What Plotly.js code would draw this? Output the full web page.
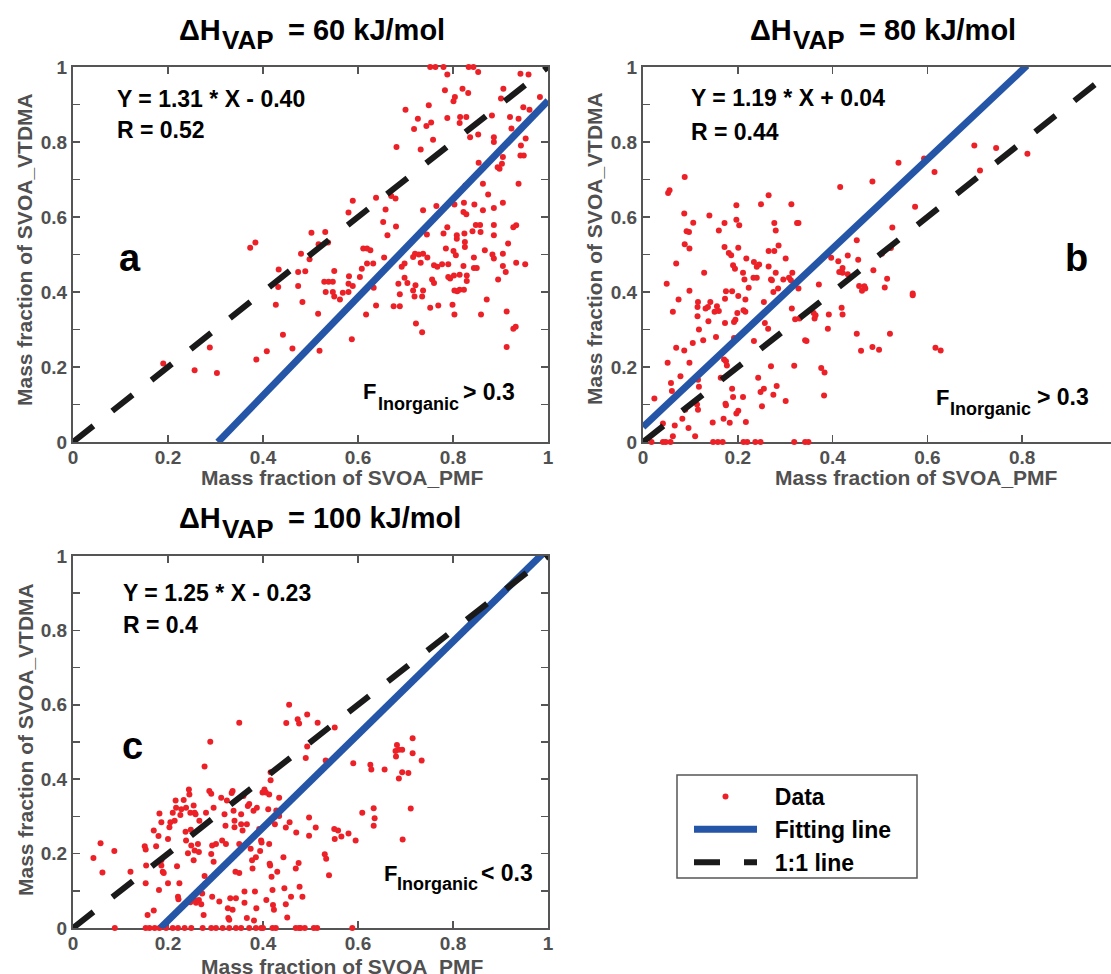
<!DOCTYPE html>
<html>
<head>
<meta charset="utf-8">
<script src="https://cdn.plot.ly/plotly-3.0.1.min.js"></script>
<style>html,body{margin:0;padding:0;background:#fff;}#chart{width:1111px;height:974px;}</style>
</head>
<body>
<div id="chart"></div>
<script>
// ---------- Data ----------
const panelTitles = ['= 60 kJ/mol', '= 80 kJ/mol', '= 100 kJ/mol'];
const panelLetters = ['a', 'b', 'c'];
const equations = ['Y = 1.31 * X - 0.40', 'Y = 1.19 * X + 0.04', 'Y = 1.25 * X - 0.23'];
const rValues = ['R = 0.52', 'R = 0.44', 'R = 0.4'];
const inorganicLabels = ['> 0.3', '> 0.3', '< 0.3'];
const legendNames = ['Data', 'Fitting line', '1:1 line'];
const fitSlope = [1.31, 1.19, 1.25];
const fitIntercept = [-0.40, 0.04, -0.23];
const fitXStart = [0.305, 0.0, 0.184];
const fitXEnd = [1.0, 0.81, 1.0];
const oneToOne = [0, 1];
const tickVals = [0, 0.2, 0.4, 0.6, 0.8, 1];
const tickText = ['0', '0.2', '0.4', '0.6', '0.8', '1'];

const aX = [0.752,0.763,0.780,0.788,0.833,0.843,0.853,0.942,0.959,0.783,0.820,0.832,0.804,0.801,0.906,0.983,0.901,0.749,0.700,0.788,
0.815,0.828,0.814,0.726,0.754,0.744,0.718,0.920,0.938,0.882,0.948,0.961,0.923,0.758,0.853,0.836,0.681,0.732,0.886,0.886,
0.953,0.943,0.942,0.949,0.905,0.903,0.894,0.854,0.898,0.938,0.863,0.874,0.826,0.670,0.679,0.638,0.589,0.580,0.658,0.823,
0.845,0.803,0.765,0.737,0.822,0.828,0.863,0.886,0.905,0.653,0.680,0.662,0.788,0.848,0.857,0.886,0.927,0.933,0.745,0.780,
0.808,0.824,0.841,0.858,0.886,0.808,0.825,0.825,0.916,0.785,0.801,0.806,0.867,0.905,0.883,0.886,0.720,0.728,0.737,0.716,
0.746,0.611,0.619,0.626,0.655,0.698,0.692,0.732,0.760,0.767,0.777,0.790,0.822,0.844,0.850,0.844,0.905,0.933,0.952,0.911,
0.619,0.632,0.608,0.756,0.760,0.790,0.794,0.802,0.814,0.829,0.829,0.895,0.698,0.685,0.704,0.721,0.716,0.737,0.688,0.719,
0.735,0.803,0.809,0.814,0.823,0.633,0.638,0.617,0.675,0.688,0.752,0.769,0.799,0.803,0.871,0.859,0.913,0.722,0.735,0.927,
0.932,0.913,0.529,0.538,0.547,0.532,0.547,0.550,0.562,0.568,0.580,0.580,0.589,0.581,0.604,0.550,0.516,0.587,0.519,0.531,
0.502,0.517,0.537,0.480,0.498,0.474,0.489,0.474,0.483,0.433,0.432,0.427,0.442,0.462,0.408,0.386,0.373,0.384,0.288,0.303,
0.256,0.190];
const aY = [1.0,1.0,1.0,0.98,1.0,1.0,0.987,0.982,0.98,0.938,0.942,0.931,0.92,0.909,0.942,0.92,0.916,0.898,0.886,0.864,
0.867,0.867,0.851,0.862,0.852,0.843,0.835,0.867,0.862,0.871,0.893,0.886,0.836,0.806,0.82,0.813,0.787,0.78,0.813,0.80,
0.809,0.791,0.764,0.764,0.76,0.742,0.733,0.745,0.729,0.689,0.689,0.66,0.684,0.656,0.649,0.651,0.643,0.612,0.62,0.638,
0.633,0.633,0.629,0.618,0.613,0.607,0.618,0.624,0.638,0.587,0.575,0.551,0.573,0.579,0.579,0.579,0.573,0.578,0.553,0.556,
0.551,0.556,0.562,0.56,0.551,0.542,0.533,0.52,0.529,0.516,0.509,0.498,0.511,0.502,0.50,0.489,0.502,0.50,0.502,0.493,
0.492,0.516,0.516,0.511,0.492,0.476,0.467,0.478,0.471,0.467,0.474,0.474,0.469,0.464,0.464,0.492,0.469,0.478,0.474,0.453,
0.476,0.476,0.462,0.433,0.424,0.44,0.436,0.444,0.446,0.444,0.429,0.433,0.438,0.422,0.424,0.418,0.404,0.404,0.394,0.388,
0.388,0.404,0.402,0.406,0.406,0.411,0.364,0.34,0.362,0.362,0.358,0.364,0.366,0.34,0.38,0.34,0.348,0.316,0.293,0.302,
0.307,0.253,0.427,0.427,0.427,0.40,0.40,0.388,0.38,0.398,0.40,0.422,0.416,0.442,0.44,0.456,0.342,0.274,0.243,0.56,
0.558,0.527,0.532,0.502,0.487,0.453,0.455,0.416,0.373,0.46,0.413,0.366,0.286,0.249,0.242,0.22,0.518,0.532,0.252,0.184,
0.191,0.209];

const bX = [0.699,0.745,0.811,0.711,0.615,0.593,0.539,0.484,0.416,0.574,0.526,0.451,0.523,0.504,0.432,0.397,0.412,0.454,0.421,0.414,
0.421,0.432,0.486,0.515,0.456,0.467,0.469,0.462,0.510,0.569,0.569,0.371,0.419,0.421,0.392,0.390,0.360,0.362,0.364,0.451,
0.521,0.460,0.484,0.498,0.617,0.628,0.376,0.383,0.382,0.342,0.345,0.319,0.301,0.330,0.321,0.314,0.328,0.312,0.315,0.296,
0.308,0.301,0.272,0.275,0.285,0.280,0.270,0.286,0.277,0.265,0.265,0.280,0.277,0.325,0.328,0.313,0.265,0.249,0.197,0.197,
0.203,0.172,0.160,0.172,0.201,0.181,0.186,0.218,0.234,0.245,0.240,0.190,0.194,0.211,0.214,0.233,0.240,0.223,0.175,0.188,
0.201,0.173,0.216,0.255,0.212,0.216,0.199,0.195,0.192,0.173,0.257,0.264,0.234,0.192,0.171,0.175,0.177,0.154,0.142,0.132,
0.151,0.160,0.156,0.137,0.116,0.115,0.115,0.138,0.118,0.127,0.105,0.129,0.140,0.106,0.092,0.097,0.087,0.088,0.088,0.098,
0.098,0.075,0.070,0.050,0.053,0.056,0.063,0.070,0.087,0.052,0.098,0.059,0.061,0.079,0.116,0.118,0.114,0.116,0.089,0.083,
0.096,0.067,0.024,0.042,0.063,0.110,0.147,0.164,0.170,0.183,0.174,0.175,0.188,0.190,0.197,0.201,0.211,0.217,0.243,0.248,
0.255,0.251,0.270,0.275,0.282,0.018,0.042,0.048,0.058,0.148,0.158,0.168,0.212,0.220,0.237,0.248,0.319,0.342,0.349];
const bY = [0.791,0.784,0.769,0.724,0.72,0.756,0.745,0.695,0.68,0.627,0.572,0.538,0.517,0.502,0.497,0.491,0.482,0.486,0.464,0.453,
0.451,0.447,0.458,0.435,0.416,0.415,0.409,0.403,0.412,0.396,0.391,0.42,0.358,0.34,0.34,0.302,0.344,0.329,0.338,0.289,
0.289,0.243,0.253,0.246,0.251,0.244,0.197,0.185,0.124,0.271,0.269,0.203,0.109,0.329,0.327,0.356,0.409,0.431,0.451,0.433,
0.438,0.489,0.431,0.40,0.409,0.451,0.433,0.524,0.509,0.509,0.468,0.564,0.584,0.584,0.584,0.634,0.658,0.634,0.631,0.593,
0.578,0.584,0.564,0.52,0.518,0.504,0.498,0.489,0.48,0.473,0.467,0.471,0.462,0.451,0.433,0.438,0.438,0.411,0.402,0.402,
0.389,0.382,0.38,0.373,0.351,0.347,0.344,0.326,0.32,0.317,0.317,0.302,0.269,0.277,0.22,0.215,0.204,0.28,0.373,0.356,
0.347,0.349,0.362,0.36,0.373,0.36,0.335,0.322,0.30,0.271,0.264,0.451,0.604,0.585,0.562,0.56,0.609,0.707,0.527,0.516,
0.403,0.38,0.476,0.422,0.664,0.671,0.347,0.251,0.244,0.211,0.211,0.157,0.136,0.175,0.166,0.147,0.10,0.086,0.086,0.062,
0.037,0.044,0.116,0.049,0.015,0.015,0.052,0.171,0.062,0.051,0.102,0.098,0.142,0.12,0.076,0.083,0.12,0.053,0.171,0.133,
0.142,0.095,0.202,0.126,0.149,0,0,0,0,0,0,0,0,0,0,0,0,0,0];

const cX = [0.043,0.058,0.062,0.087,0.088,0.121,0.151,0.153,0.154,0.153,0.157,0.170,0.170,0.175,0.180,0.182,0.181,0.186,0.186,0.186,
0.189,0.191,0.200,0.200,0.203,0.205,0.210,0.216,0.214,0.217,0.219,0.221,0.222,0.224,0.226,0.228,0.233,0.237,0.238,0.238,
0.242,0.242,0.244,0.245,0.247,0.248,0.247,0.249,0.254,0.256,0.258,0.256,0.254,0.256,0.259,0.265,0.263,0.265,0.266,0.270,
0.272,0.275,0.277,0.277,0.278,0.280,0.287,0.289,0.291,0.291,0.293,0.293,0.296,0.296,0.301,0.308,0.312,0.314,0.319,0.321,
0.322,0.324,0.326,0.327,0.329,0.331,0.336,0.334,0.336,0.338,0.340,0.340,0.342,0.343,0.350,0.350,0.350,0.354,0.354,0.357,
0.359,0.361,0.361,0.366,0.366,0.368,0.371,0.374,0.377,0.378,0.380,0.381,0.383,0.385,0.386,0.387,0.392,0.394,0.396,0.397,
0.399,0.403,0.406,0.407,0.411,0.413,0.414,0.416,0.416,0.413,0.415,0.418,0.420,0.421,0.423,0.423,0.425,0.428,0.430,0.434,
0.434,0.443,0.445,0.448,0.448,0.449,0.451,0.455,0.456,0.459,0.469,0.470,0.473,0.475,0.476,0.477,0.483,0.490,0.493,0.493,
0.497,0.497,0.511,0.515,0.530,0.532,0.533,0.539,0.551,0.550,0.551,0.558,0.565,0.580,0.590,0.595,0.609,0.626,0.628,0.633,
0.635,0.633,0.656,0.679,0.682,0.686,0.680,0.693,0.686,0.693,0.694,0.706,0.711,0.715,0.715,0.734,
0.153,0.161,0.172,0.182,0.196,0.210,0.221,0.235,0.249,0.273,0.291,0.301,0.315,0.329,0.343,0.354,0.371,0.385,0.396,0.400,
0.420,0.427,0.469,0.476,0.479,0.488,0.507,0.514,0.588];
const cY = [0.188,0.228,0.149,0.207,0,0.151,0.22,0.211,0.168,0.12,0.035,0.047,0.262,0.22,0.247,0.308,0.102,0.284,0.182,0.168,
0.151,0.148,0.12,0.239,0.271,0.284,0.31,0.343,0.288,0.323,0.166,0.084,0.077,0.12,0.304,0.319,0.344,0.259,0.235,0.323,
0.201,0.071,0.372,0.359,0.31,0.264,0.069,0.222,0.329,0.31,0.306,0.208,0.182,0.075,0.068,0.075,0.226,0.204,0.288,0.064,
0.093,0.035,0.434,0.14,0.118,0.31,0.368,0.501,0.361,0.199,0.222,0.084,0.178,0.323,0.226,0.071,0.35,0.235,0.306,0.275,
0.226,0.343,0.053,0.027,0.022,0.08,0.049,0.363,0.368,0.315,0.288,0.271,0.151,0.08,0.552,0.226,0.148,0.306,0.279,0.262,
0.355,0.098,0.068,0.027,0.279,0.328,0.333,0.213,0.182,0.16,0.315,0.02,0.098,0.19,0.053,0.323,0.266,0.207,0.235,0.23,
0.364,0.372,0.364,0.075,0.319,0.359,0.173,0.419,0.397,0.226,0.168,0.138,0.102,0.062,0.049,0.297,0.279,0.316,0.151,0.35,
0.301,0.19,0.107,0.27,0.064,0.551,0.028,0.60,0.284,0.084,0.16,0.257,0.561,0.175,0.55,0.111,0.084,0.457,0.488,0.574,
0.297,0.248,0.27,0.552,0.198,0.45,0.186,0.142,0.539,0.266,0.239,0.262,0.246,0.254,0.443,0.235,0.31,0.439,0.426,0.322,
0.295,0.275,0.426,0.476,0.492,0.479,0.461,0.479,0.402,0.419,0.238,0.417,0.321,0.51,0.47,0.45,
0,0,0,0,0,0,0,0,0,0,0,0,0,0,0,0,0,0,0,0,
0,0,0,0,0,0,0,0,0];

// ---------- Style ----------
const W = 1111, H = 974;
const FONT = 'Liberation Sans, Arial, Helvetica, sans-serif';
const GRAY = '#505050';
const RED = '#ec2128';
const BLUE = '#2455a6';
const BLACK = '#1a1a1a';
const px = p => p / W;
const py = p => 1 - p / H;

const panels = [
  {x: aX, y: aY, xa: 'x', ya: 'y'},
  {x: bX, y: bY, xa: 'x2', ya: 'y2'},
  {x: cX, y: cY, xa: 'x3', ya: 'y3'}
];

const NB = '\u00a0\u00a0';
const traces = [];
panels.forEach((p, i) => {
  traces.push({
    type: 'scatter', mode: 'markers', x: p.x, y: p.y, xaxis: p.xa, yaxis: p.ya,
    name: NB + legendNames[0], showlegend: i === 0, legendrank: 1, cliponaxis: false,
    marker: {color: RED, size: 6, line: {width: 0}}
  });
  const fx = [fitXStart[i], fitXEnd[i]];
  traces.push({
    type: 'scatter', mode: 'lines', x: fx, y: fx.map(v => fitSlope[i] * v + fitIntercept[i]),
    xaxis: p.xa, yaxis: p.ya, name: NB + legendNames[1], showlegend: i === 0, legendrank: 2,
    line: {color: BLUE, width: 7}
  });
  traces.push({
    type: 'scatter', mode: 'lines', x: oneToOne, y: oneToOne, xaxis: p.xa, yaxis: p.ya,
    name: NB + legendNames[2], showlegend: i === 0, legendrank: 3,
    line: {color: BLACK, width: 6, dash: '26px,24px'}
  });
});

const tickFont = {family: FONT, size: 19, color: GRAY, weight: 'bold'};
function xAx(domain, range, mirror) {
  return {domain, range, showgrid: false, zeroline: false, showline: true, linecolor: '#555', linewidth: 2,
    mirror: mirror, ticks: 'inside', ticklen: 7, tickwidth: 1.5, tickcolor: '#555',
    tickvals: tickVals, ticktext: tickText, tickfont: tickFont, layer: 'below traces', fixedrange: true,
    ticklabelstandoff: -3};
}
function yAx(domain, mirror) {
  return {domain, range: [0, 1], showgrid: false, zeroline: false, showline: true, linecolor: '#555', linewidth: 2,
    mirror: mirror, ticks: 'inside', ticklen: 7, tickwidth: 1.5, tickcolor: '#555',
    tickvals: tickVals, ticktext: tickText, tickfont: tickFont, layer: 'below traces',
    minor: {dtick: 0.1, tick0: 0, ticks: 'inside', ticklen: 7, tickwidth: 1.5, tickcolor: '#555'},
    fixedrange: true};
}

const annotations = [];
function ann(o) { annotations.push(Object.assign({showarrow: false, borderpad: 0}, o)); }
function paperText(text, x, y, size, color, xanchor, extra) {
  ann(Object.assign({xref: 'paper', yref: 'paper', x: px(x), y: py(y), xanchor: xanchor, yanchor: 'middle', text: text,
    font: {family: FONT, size: size, color: color, weight: 'bold'}}, extra || {}));
}

const titleLayout = [
  {d: 178, v: 221, r: 287, y: 30, vy: 40},
  {d: 749, v: 792, r: 858, y: 30, vy: 40},
  {d: 178, v: 221, r: 287, y: 518, vy: 529}
];
titleLayout.forEach((t, i) => {
  paperText('ΔH', t.d, t.y, 29, '#000', 'left');
  paperText('VAP', t.v, t.vy, 26, '#000', 'left');
  paperText(panelTitles[i], t.r, t.y, 29, '#000', 'left');
});

// axis titles
const xLabPos = [[342, 477], [916, 477], [342, 966]];
xLabPos.forEach(t => paperText('Mass fraction of SVOA_PMF', t[0], t[1], 21, GRAY, 'center'));
const yLabPos = [[25, 250], [594, 249], [25, 740]];
yLabPos.forEach(t => paperText('Mass fraction of SVOA_VTDMA', t[0], t[1], 21, GRAY, 'center', {textangle: -90}));

// F_Inorganic labels
const fLayout = [
  {f: 362, s: 377, r: 516, y: 392, sy: 404},
  {f: 935, s: 949, r: 1090, y: 397, sy: 409},
  {f: 383, s: 396, r: 534, y: 873, sy: 884}
];
fLayout.forEach((t, i) => {
  paperText('F', t.f, t.y, 22, '#000', 'left');
  paperText('Inorganic', t.s, t.sy, 18, '#000', 'left');
  paperText(inorganicLabels[i], t.r, t.y, 23, '#000', 'right');
});

// in-panel equations and letters
const eqPos = [[0.09, 0.914, 0.831], [0.10, 0.917, 0.828], [0.104, 0.90, 0.815]];
const letterPos = [[0.12, 0.49], [0.915, 0.49], [0.125, 0.49]];
panels.forEach((p, i) => {
  const f = {family: FONT, size: 23, color: '#000', weight: 'bold'};
  ann({xref: p.xa, yref: p.ya, x: eqPos[i][0], y: eqPos[i][1], xanchor: 'left', yanchor: 'middle', text: equations[i], font: f});
  ann({xref: p.xa, yref: p.ya, x: eqPos[i][0], y: eqPos[i][2], xanchor: 'left', yanchor: 'middle', text: rValues[i], font: f});
  ann({xref: p.xa, yref: p.ya, x: letterPos[i][0], y: letterPos[i][1], xanchor: 'center', yanchor: 'middle', text: panelLetters[i],
    font: {family: FONT, size: 38, color: '#000', weight: 'bold'}});
});

const layout = {
  width: W, height: H,
  margin: {l: 0, r: 0, t: 0, b: 0, pad: 0},
  paper_bgcolor: '#fff', plot_bgcolor: '#fff',
  font: {family: FONT},
  xaxis: Object.assign(xAx([px(73), px(548)], [0, 1], 'ticks'), {anchor: 'y'}),
  yaxis: Object.assign(yAx([py(442), py(67)], 'ticks'), {anchor: 'x'}),
  xaxis2: Object.assign(xAx([px(643), 1], [0, (1111 - 643) / 474], 'ticks'), {anchor: 'y2'}),
  yaxis2: Object.assign(yAx([py(442), py(67)], false), {anchor: 'x2'}),
  xaxis3: Object.assign(xAx([px(73), px(548)], [0, 1], 'ticks'), {anchor: 'y3'}),
  yaxis3: Object.assign(yAx([py(928), py(556)], 'ticks'), {anchor: 'x3'}),
  showlegend: true,
  legend: {x: px(689), y: py(775), xanchor: 'left', yanchor: 'top', bgcolor: 'rgba(0,0,0,0)', borderwidth: 0,
    font: {family: FONT, size: 23, color: '#000', weight: 'bold'}, itemwidth: 63, tracegroupgap: 0, traceorder: 'normal'},
  shapes: [{type: 'rect', xref: 'paper', yref: 'paper', x0: px(677), x1: px(917), y0: py(878), y1: py(775),
    line: {color: '#555', width: 1.5}, fillcolor: 'rgba(0,0,0,0)', layer: 'below'}],
  annotations: annotations
};

Plotly.newPlot('chart', traces, layout, {displayModeBar: false, staticPlot: true});
</script>
</body>
</html>
